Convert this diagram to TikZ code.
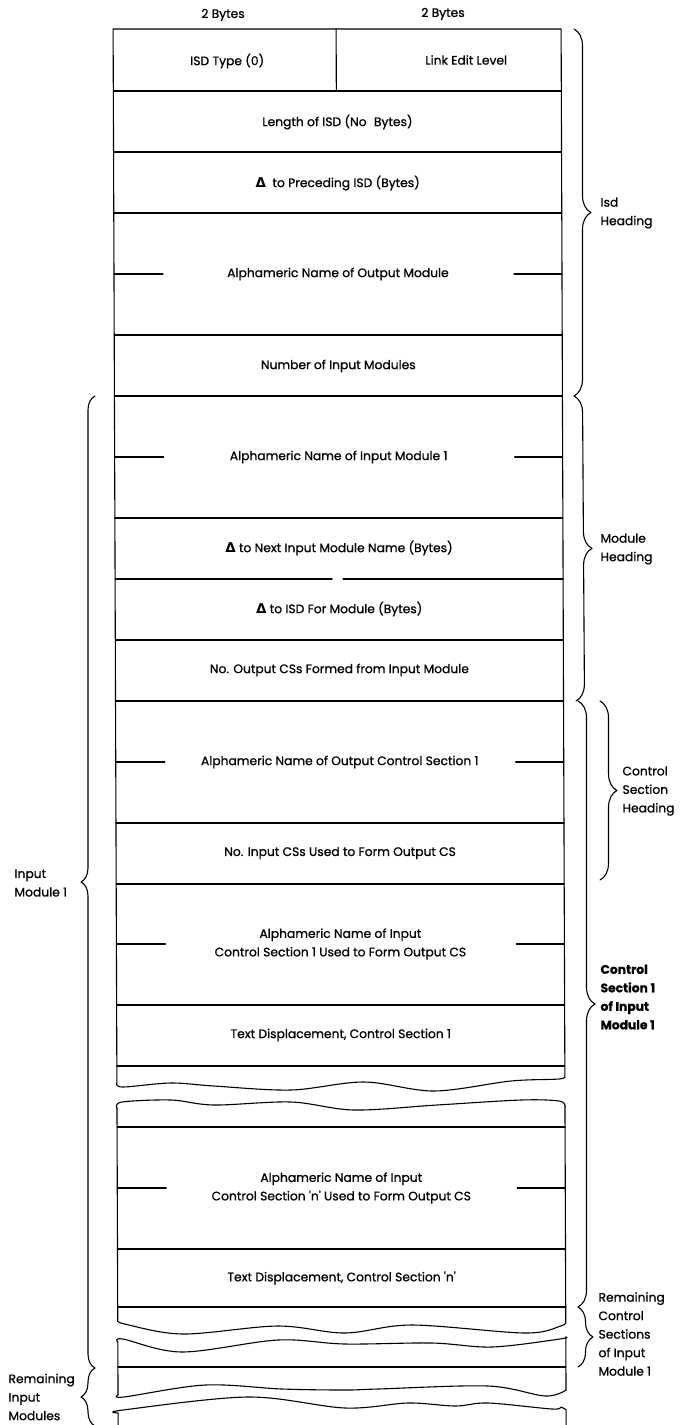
\documentclass[tikz,border=0pt]{standalone}
\usepackage{fontspec}
\newfontfamily\pop{Poppins}[FakeBold=0.9]
\newfontfamily\dvs{DejaVu Sans}
\usetikzlibrary{decorations.pathreplacing}
\newcommand\dlt{{\dvs\bfseries\fontsize{13.5}{13.5}\selectfont Δ}}

\begin{document}
\begin{tikzpicture}[x=1pt,y=-1pt,line width=1.1pt,line join=round,line cap=round,
  lbl/.style={font=\pop\fontsize{12.3}{18.5}\selectfont,inner sep=0pt,align=center},
  side/.style={font=\pop\fontsize{12.3}{18.5}\selectfont,inner sep=0pt,align=left,anchor=west},
  brc/.style={decorate,decoration={brace,amplitude=#1}},brc/.default=17pt,
  wave/.style={smooth,tension=0.55}]
\useasboundingbox (0,0) rectangle (692,1425);

% field widths above the first row
\node[lbl] (wa) at (223,15) {2 Bytes};
\node[lbl] (wb) at (443,14) {2 Bytes};

% the record, drawn with the slight lean of the printed form
\begin{scope}[xslant=-0.0036]
  % upper piece, from the ISD type down to control section 1
  \draw (561,1076) -- (561,29) -- (113,29) -- (113,1083);
  \draw plot[wave] coordinates {(113,1083) (119,1087) (167,1083) (210,1086) (287,1090)
      (360,1082) (430,1091) (507,1081) (555,1079) (561,1076)};
  \draw (336,29) -- (336,91);
  \foreach \yy in {91,152,213,335,396,518,640,701,823,884,1005,1066}
    \draw (113,\yy) -- (561,\yy);
  \draw (113,579) -- (330,579);
  \draw (341,579) -- (561,579);
  \foreach \yy in {274,457,762,944}{
    \draw (113,\yy) -- (162,\yy);
    \draw (513,\yy) -- (561,\yy);
  }

  % piece for control section n
  \draw plot[wave] coordinates {(113,1108) (118,1102) (167,1100) (210,1105) (287,1102)
      (350,1110) (433,1105) (517,1100) (555,1101) (561,1106)};
  \draw (113,1108) -- (113,1320);
  \draw (561,1106) -- (561,1322);
  \draw plot[wave] coordinates {(113,1320) (120,1324) (178,1334) (273,1326) (340,1333)
      (407,1325) (520,1333) (556,1326) (561,1322)};
  \foreach \yy in {1127,1249,1307}
    \draw (113,\yy) -- (561,\yy);
  \draw (113,1188) -- (162,1188);
  \draw (513,1188) -- (561,1188);

  % remaining control sections
  \draw plot[wave] coordinates {(113,1342) (118,1339) (177,1352) (273,1340) (340,1344)
      (427,1343) (487,1347) (555,1339) (561,1337)};
  \draw (113,1342) -- (113,1395);
  \draw (561,1337) -- (561,1390);
  \draw (113,1367) -- (561,1367);
  \draw plot[wave] coordinates {(113,1395) (119,1397) (200,1385) (277,1389) (340,1390)
      (373,1389) (483,1386) (540,1396) (561,1390)};

  % remaining input modules
  \draw plot[wave] coordinates {(113,1413) (118,1410) (243,1397) (340,1408) (403,1403)
      (450,1406) (483,1403) (547,1409) (556,1407) (561,1410)};
  \draw (113,1413) -- (113,1426);
  \draw (561,1410) -- (561,1426);

  % field texts
  \node[lbl] (typ) at (227,61) {ISD Type (0)};
  \node[lbl] (lel) at (466,60) {Link Edit Level};
  \node[lbl] (len) at (337,122) {Length of ISD (No\hspace{0.6em}Bytes)};
  \node[lbl] (pre) at (337,183) {\dlt\ \ to Preceding ISD (Bytes)};
  \node[lbl] (outn) at (337,274) {Alphameric Name of Output Module};
  \node[lbl] (nin) at (337,366) {Number of Input Modules};
  \node[lbl] (inn) at (337,457) {Alphameric Name of Input Module 1};
  \node[lbl] (nxt) at (337,548) {\dlt\ to Next Input Module Name (Bytes)};
  \node[lbl] (isdm) at (337,609) {\dlt\ to ISD For Module (Bytes)};
  \node[lbl] (nocs) at (337,670) {No. Output CSs Formed from Input Module};
  \node[lbl] (ocs) at (337,762) {Alphameric Name of Output Control Section 1};
  \node[lbl] (nics) at (337,853) {No. Input CSs Used to Form Output CS};
  \node[lbl] (ics1) at (337,944) {Alphameric Name of Input\\Control Section 1 Used to Form Output CS};
  \node[lbl] (td1) at (337,1035) {Text Displacement, Control Section 1};
  \node[lbl] (icsn) at (337,1188) {Alphameric Name of Input\\Control Section 'n' Used to Form Output CS};
  \node[lbl] (tdn) at (337,1278) {Text Displacement, Control Section 'n'};
\end{scope}

% braces on the right
\draw[brc] (574,29) -- (574,396);
\draw[brc] (574,396) -- (576,701);
\draw[brc] (600,701) -- (600,880);
\draw[brc] (578,701) -- (578,1307);
\draw[brc=15pt] (578,1307) -- (578,1367);
\node[side] (lisd) at (600,213) {Isd\\Heading};
\node[side] (lmod) at (600,549) {Module\\Heading};
\node[side] (lcsh) at (622,791) {Control\\Section\\Heading};
\node[side,font=\pop\bfseries\fontsize{12.3}{18.5}\selectfont] (lcs1) at (600,997) {Control\\Section 1\\of Input\\Module 1};
\node[side] (lrem) at (598,1334) {Remaining\\Control\\Sections\\of Input\\Module 1};

% braces on the left
\draw[brc=14pt] (95,1368) -- (95,396);
\draw[brc=14pt] (95,1426) -- (95,1368);
\node[side] (linp) at (14,883) {Input\\Module 1};
\node[side] (lrin) at (8,1397) {Remaining\\Input\\Modules};
\end{tikzpicture}
\end{document}
